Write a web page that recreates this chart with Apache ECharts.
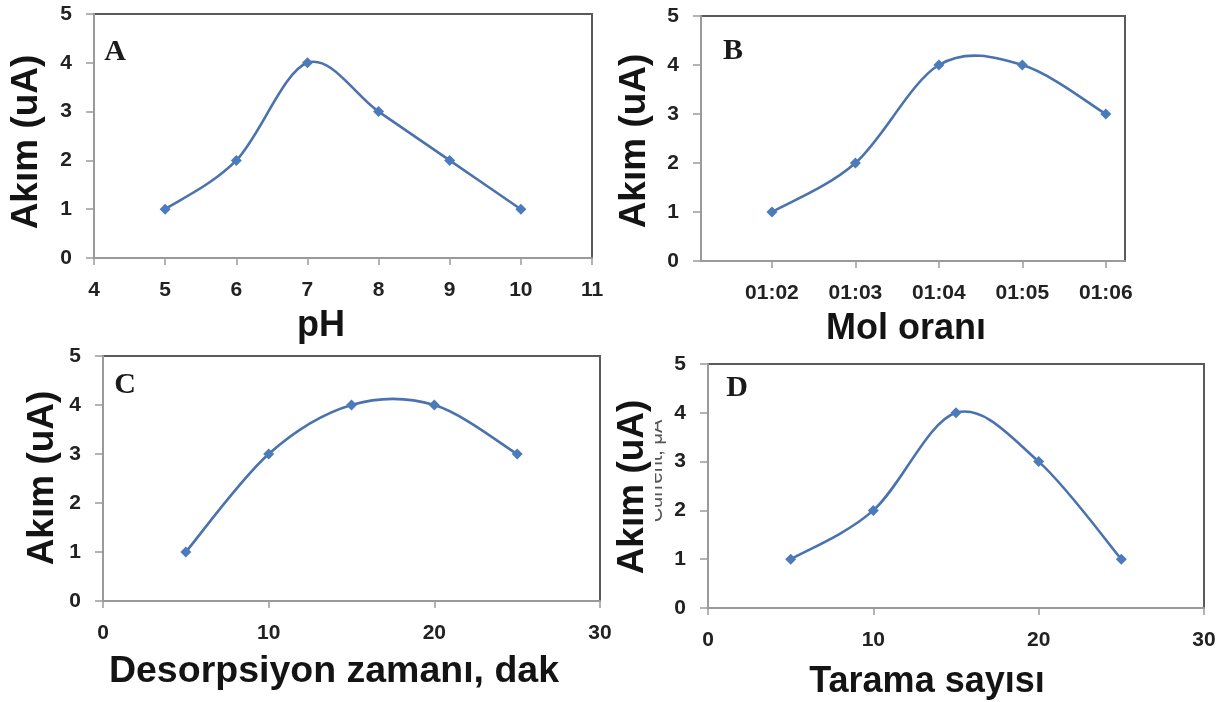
<!DOCTYPE html>
<html>
<head>
<meta charset="utf-8">
<title>Akım</title>
<script src="https://cdn.jsdelivr.net/npm/echarts@6/dist/echarts.min.js"></script>
<style>
  html, body { margin: 0; padding: 0; background: #ffffff; }
  #chart { width: 1230px; height: 702px; }
</style>
</head>
<body>
<div id="chart"></div>
<script>
// Panel A: current vs pH
const phValues = [5, 6, 7, 8, 9, 10];
const phCurrent = [1, 2, 4, 3, 2, 1];

// Panel B: current vs mol ratio (1:2 ... 1:6)
const molRatio = [2, 3, 4, 5, 6];
const molLabels = ['01:02', '01:03', '01:04', '01:05', '01:06'];
const molCurrent = [1, 2, 4, 4, 3];

// Panel C: current vs desorption time (min)
const desorpTime = [5, 10, 15, 20, 25];
const desorpCurrent = [1, 3, 4, 4, 3];

// Panel D: current vs number of scans
const scanCount = [5, 10, 15, 20, 25];
const scanCurrent = [1, 2, 4, 3, 1];

const yTicks = [0, 1, 2, 3, 4, 5];

const LINE = '#4a72ae';
const MARK = '#4b7bbb';
const AXIS = '#9a9a9a';
const FRAME = '#5a5a5a';
const SANS = '"Liberation Sans", Arial, sans-serif';
const SERIF = '"Liberation Serif", "Times New Roman", serif';

const tickLabel = { fontFamily: SANS, fontWeight: 'bold', fontSize: 21, color: '#222' };

function pair(xs, ys) { return xs.map((x, i) => [x, ys[i]]); }

function yAxisFor(gridIndex) {
  return {
    type: 'value', gridIndex, min: 0, max: 5, interval: 1,
    splitLine: { show: false },
    axisLine: { show: true, lineStyle: { color: AXIS, width: 2 } },
    axisTick: { show: true, length: 8, lineStyle: { color: AXIS, width: 1.5 } },
    axisLabel: Object.assign({ margin: 22, formatter: v => yTicks.includes(v) ? String(v) : '' }, tickLabel)
  };
}

function xValueAxis(gridIndex, min, max, interval) {
  return {
    type: 'value', gridIndex, min, max, interval,
    splitLine: { show: false },
    axisLine: { show: true, onZero: false, lineStyle: { color: AXIS, width: 2 } },
    axisTick: { show: true, length: 7, lineStyle: { color: AXIS, width: 1.5 } },
    axisLabel: Object.assign({ margin: 22 }, tickLabel)
  };
}

// Smoothed curve through the points (cardinal spline, Bezier segments with 1/6 tangents)
function curveSeries(idx, xs, ys) {
  const data = pair(xs, ys);
  return {
    type: 'custom', xAxisIndex: idx, yAxisIndex: idx, data, z: 2, silent: true,
    renderItem(params, api) {
      if (params.dataIndex !== 0) return null;
      const p = data.map(d => api.coord(d));
      let d = 'M' + p[0][0] + ',' + p[0][1];
      for (let i = 0; i < p.length - 1; i++) {
        const p0 = p[Math.max(i - 1, 0)], p1 = p[i], p2 = p[i + 1], p3 = p[Math.min(i + 2, p.length - 1)];
        const c1 = [p1[0] + (p2[0] - p0[0]) / 6, p1[1] + (p2[1] - p0[1]) / 6];
        const c2 = [p2[0] - (p3[0] - p1[0]) / 6, p2[1] - (p3[1] - p1[1]) / 6];
        d += ' C' + c1[0] + ',' + c1[1] + ' ' + c2[0] + ',' + c2[1] + ' ' + p2[0] + ',' + p2[1];
      }
      return {
        type: 'path', shape: { pathData: d },
        style: { fill: null, stroke: LINE, lineWidth: 2.6, lineJoin: 'round', lineCap: 'round' }
      };
    },
    animation: false
  };
}

function markerSeries(idx, xs, ys) {
  return {
    type: 'scatter', xAxisIndex: idx, yAxisIndex: idx, data: pair(xs, ys), z: 3,
    symbol: 'diamond', symbolSize: 11,
    itemStyle: { color: MARK, opacity: 1 },
    emphasis: { disabled: true },
    animation: false
  };
}

const grids = [
  { left: 94, top: 14, width: 498, height: 244 },
  { left: 701, top: 16, width: 424, height: 245 },
  { left: 103, top: 356, width: 497, height: 245 },
  { left: 708, top: 364, width: 496, height: 244 }
].map(g => Object.assign({ show: true, borderColor: FRAME, borderWidth: 2, backgroundColor: '#fff' }, g));

const molAxis = {
  type: 'value', gridIndex: 1, min: 1.15, max: 6.23,
  splitLine: { show: false },
  axisLine: { show: true, onZero: false, lineStyle: { color: AXIS, width: 2 } },
  axisTick: { show: true, length: 7, customValues: molRatio, lineStyle: { color: AXIS, width: 1.5 } },
  axisLabel: Object.assign({
    margin: 22,
    customValues: molRatio,
    formatter: v => molLabels[molRatio.indexOf(Math.round(v))] || ''
  }, tickLabel)
};

function title(text, x, y, rotated, extra, size) {
  return Object.assign({
    type: 'text', x, y, rotation: rotated ? Math.PI / 2 : 0, z: 10,
    style: {
      text, font: 'bold ' + (size || 36) + 'px ' + SANS, fill: '#141414',
      align: 'center', verticalAlign: 'middle'
    }
  }, extra || {});
}

function letter(text, x, y) {
  return {
    type: 'text', x, y, z: 10,
    style: { text, font: 'bold 30px ' + SERIF, fill: '#1a1a1a', align: 'center', verticalAlign: 'middle' }
  };
}

const chart = echarts.init(document.getElementById('chart'), null, { renderer: 'canvas' });
chart.setOption({
  backgroundColor: '#ffffff',
  animation: false,
  grid: grids,
  xAxis: [
    xValueAxis(0, 4, 11, 1),
    molAxis,
    xValueAxis(2, 0, 30, 10),
    xValueAxis(3, 0, 30, 10)
  ],
  yAxis: [yAxisFor(0), yAxisFor(1), yAxisFor(2), yAxisFor(3)],
  series: [
    curveSeries(0, phValues, phCurrent),
    markerSeries(0, phValues, phCurrent),
    curveSeries(1, molRatio, molCurrent),
    markerSeries(1, molRatio, molCurrent),
    curveSeries(2, desorpTime, desorpCurrent),
    markerSeries(2, desorpTime, desorpCurrent),
    curveSeries(3, scanCount, scanCurrent),
    markerSeries(3, scanCount, scanCurrent)
  ],
  graphic: {
    elements: [
      title('Akım (uA)', 27, 142, true, null, 37),
      title('pH', 321, 326, false),
      title('Akım (uA)', 635, 141, true, null, 37),
      title('Mol oranı', 906, 329, false),
      title('Akım (uA)', 43, 478, true, null, 37),
      title('Desorpsiyon zamanı, dak', 334, 672, false, null, 37.5),
      title('Tarama sayısı', 927, 682, false),
      // older axis caption partly showing behind the D title
      {
        type: 'text', x: 656, y: 471, rotation: Math.PI / 2, z: 11,
        style: { text: 'Current, μA', font: '20px ' + SANS, fill: '#555', align: 'center', verticalAlign: 'middle' }
      },
      { type: 'rect', z: 12, shape: { x: 612, y: 405, width: 43, height: 170 }, style: { fill: '#ffffff' } },
      title('Akım (uA)', 633, 487, true, { z: 13 }, 37),
      letter('A', 115, 52),
      letter('B', 733, 51),
      letter('C', 125, 385),
      letter('D', 737, 388)
    ]
  }
});
</script>
</body>
</html>
